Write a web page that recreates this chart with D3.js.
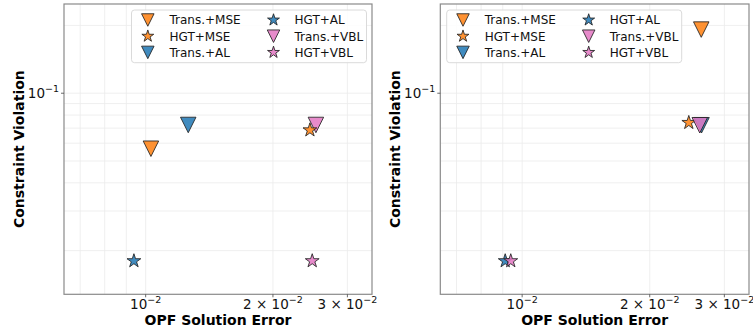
<!DOCTYPE html>
<html>
<head>
<meta charset="utf-8">
<script src="https://cdn.jsdelivr.net/npm/d3@7"></script>
<style>
  html, body { margin: 0; padding: 0; background: #fff; }
  svg { display: block; font-family: "DejaVu Sans", sans-serif; }
</style>
</head>
<body>
<svg id="chart" width="753" height="335"></svg>
<script>
// Series (legend order: column-wise, three rows)
const seriesNames  = ["Trans.+MSE", "HGT+MSE", "Trans.+AL", "HGT+AL", "Trans.+VBL", "HGT+VBL"];
const seriesShapes = ["tri", "star", "tri", "star", "tri", "star"];
const seriesColors = ["#ff7f0e", "#ff7f0e", "#1f77b4", "#1f77b4", "#e377c2", "#e377c2"];

// Left panel: OPF solution error / constraint violation
const leftError     = [0.01029, 0.02446, 0.01261, 0.00938, 0.02527, 0.02477];
const leftViolation = [0.0567, 0.0686, 0.0723, 0.0180, 0.0723, 0.0180];

// Right panel
const rightError     = [0.02646, 0.02473, 0.0265, 0.00912, 0.02625, 0.00940];
const rightViolation = [0.1917, 0.0740, 0.0721, 0.0180, 0.0721, 0.0180];

// Plotting order (indices into the series arrays)
const leftOrder  = [0, 2, 4, 1, 3, 5];
const rightOrder = [1, 3, 5, 0, 2, 4];

// Axis limits, ticks and grid values
const xDomain = [0.00641, 0.0343];
const yDomain = [0.0128, 0.249];
const xTickValues = [0.01, 0.02, 0.03];
const xTickMant   = ["", "2", "3"];
const xTickExp    = ["\u22122", "\u22122", "\u22122"];
const yTickValues = [0.1];
const yTickMant   = [""];
const yTickExp    = ["\u22121"];
const xGridValues = [0.007, 0.008, 0.009, 0.01, 0.02, 0.03];
const yGridValues = [0.02, 0.03, 0.04, 0.05, 0.06, 0.07, 0.08, 0.09, 0.1, 0.2];

const xLabel = "OPF Solution Error";
const yLabel = "Constraint Violation";

const svg = d3.select("#chart");

function markerPath(shape, size) {
  if (shape === "tri") {
    const h = size / 2;
    return `M${-h},${-h}L${h},${-h}L0,${h}Z`;
  }
  const R = size / 2, r = R * 0.381966;
  const pts = [];
  for (let i = 0; i < 10; i++) {
    const a = -Math.PI / 2 + i * Math.PI / 5;
    const rad = i % 2 === 0 ? R : r;
    pts.push([rad * Math.cos(a), rad * Math.sin(a)]);
  }
  return "M" + pts.map(p => p[0].toFixed(2) + "," + p[1].toFixed(2)).join("L") + "Z";
}

function markerSize(shape, legend) {
  if (shape === "tri") return legend ? 12.5 : 15.5;
  return legend ? 12.5 : 14.5;
}

function drawPanel(left, right, top, bottom, errs, viols, order, legendAnchor) {
  const x = d3.scaleLog().domain(xDomain).range([left, right]);
  const y = d3.scaleLog().domain(yDomain).range([bottom, top]);
  const g = svg.append("g");

  // grid
  g.append("g").selectAll("line").data(xGridValues).join("line")
    .attr("x1", d => x(d)).attr("x2", d => x(d))
    .attr("y1", top).attr("y2", bottom)
    .attr("stroke", "#ebebeb").attr("stroke-width", 0.8);
  g.append("g").selectAll("line").data(yGridValues).join("line")
    .attr("y1", d => y(d)).attr("y2", d => y(d))
    .attr("x1", left).attr("x2", right)
    .attr("stroke", "#ebebeb").attr("stroke-width", 0.8);

  // frame
  g.append("rect")
    .attr("x", left).attr("y", top)
    .attr("width", right - left).attr("height", bottom - top)
    .attr("fill", "none").attr("stroke", "#8a8a8a").attr("stroke-width", 1.2);

  // x ticks
  const xt = g.append("g");
  xTickValues.forEach((v, i) => {
    xt.append("line").attr("x1", x(v)).attr("x2", x(v))
      .attr("y1", bottom).attr("y2", bottom + 3)
      .attr("stroke", "#444").attr("stroke-width", 0.8);
    const t = xt.append("text")
      .attr("x", x(v)).attr("y", bottom + 15)
      .attr("text-anchor", "middle")
      .attr("font-size", 13.5).attr("fill", "#111");
    if (xTickMant[i]) t.append("tspan").text(xTickMant[i] + " \u00d7 ");
    t.append("tspan").text("10");
    t.append("tspan").attr("font-size", 9.5).attr("dy", -6).text(xTickExp[i]);
  });

  // y ticks
  const yt = g.append("g");
  yTickValues.forEach((v, i) => {
    yt.append("line").attr("x1", left - 3).attr("x2", left)
      .attr("y1", y(v)).attr("y2", y(v))
      .attr("stroke", "#444").attr("stroke-width", 0.8);
    const t = yt.append("text")
      .attr("x", left - 5).attr("y", y(v) + 5)
      .attr("text-anchor", "end")
      .attr("font-size", 13.5).attr("fill", "#111");
    t.append("tspan").text("10");
    t.append("tspan").attr("font-size", 9.5).attr("dy", -6).text(yTickExp[i]);
  });

  // axis labels
  g.append("text")
    .attr("x", (left + right) / 2).attr("y", bottom + 31)
    .attr("text-anchor", "middle")
    .attr("font-size", 14).attr("font-weight", "bold").attr("fill", "#000")
    .text(xLabel);
  g.append("text")
    .attr("transform", `translate(${left - 40},${(top + bottom) / 2}) rotate(-90)`)
    .attr("text-anchor", "middle")
    .attr("font-size", 14).attr("font-weight", "bold").attr("fill", "#000")
    .text(yLabel);

  // markers
  g.append("g").selectAll("path").data(order).join("path")
    .attr("transform", i => `translate(${x(errs[i])},${y(viols[i])})`)
    .attr("d", i => markerPath(seriesShapes[i], markerSize(seriesShapes[i], false)))
    .attr("fill", i => seriesColors[i]).attr("fill-opacity", 0.85)
    .attr("stroke", "#222").attr("stroke-opacity", 0.85).attr("stroke-width", 1);

  // legend
  const lw = 235, lh = 52.7;
  const lx = legendAnchor === "right" ? right - 5.5 - lw : left + 6.4;
  const ly = top + 6;
  const lg = g.append("g").attr("transform", `translate(${lx},${ly})`);
  lg.append("rect").attr("width", lw).attr("height", lh)
    .attr("rx", 3).attr("fill", "#fff").attr("fill-opacity", 0.85)
    .attr("stroke", "#d6d6d6").attr("stroke-width", 0.9);
  seriesNames.forEach((name, i) => {
    const col = Math.floor(i / 3), row = i % 3;
    const mx = col === 0 ? 16.3 : 142;
    const tx = col === 0 ? 38 : 163;
    const cy = 10 + row * 16.2;
    lg.append("path")
      .attr("transform", `translate(${mx},${cy})`)
      .attr("d", markerPath(seriesShapes[i], markerSize(seriesShapes[i], true)))
      .attr("fill", seriesColors[i]).attr("fill-opacity", 0.85)
      .attr("stroke", "#222").attr("stroke-opacity", 0.85).attr("stroke-width", 1);
    lg.append("text").attr("x", tx).attr("y", cy + 4.3)
      .attr("font-size", 12).attr("fill", "#111").text(name);
  });
}

drawPanel(64, 372, 4, 294.3, leftError, leftViolation, leftOrder, "right");
drawPanel(440.3, 749, 4, 294.3, rightError, rightViolation, rightOrder, "left");
</script>
</body>
</html>
